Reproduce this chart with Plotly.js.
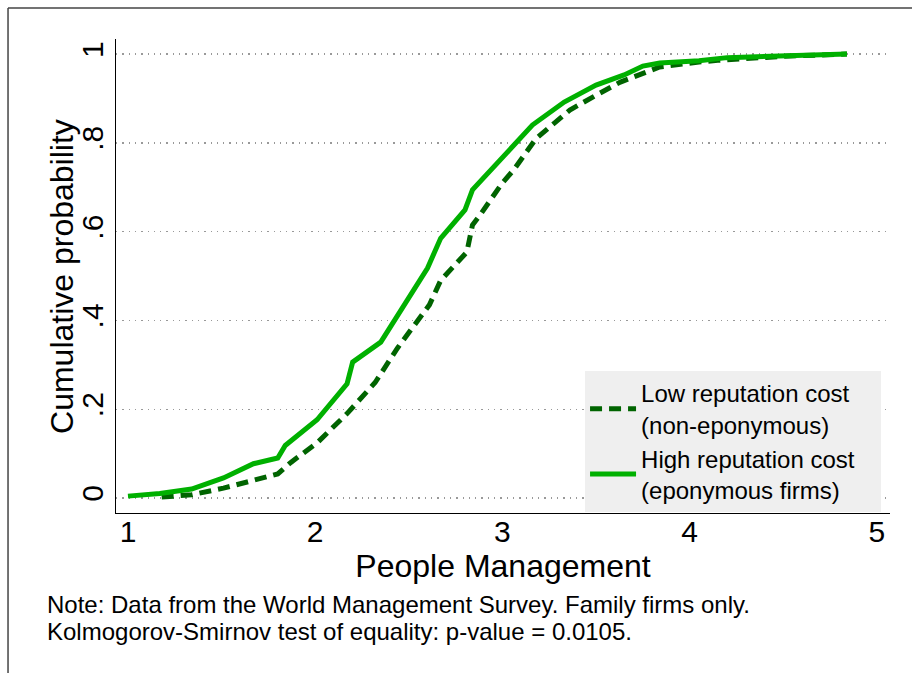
<!DOCTYPE html>
<html>
<head>
<meta charset="utf-8">
<script src="https://cdn.plot.ly/plotly-3.0.1.min.js"></script>
<style>html,body{margin:0;padding:0;background:#fff;}#chart{width:912px;height:673px;}</style>
</head>
<body>
<div id="chart"></div>
<script>
const lowX = [1.18, 1.34, 1.51, 1.67, 1.80, 1.87, 1.97, 2.01, 2.17, 2.32, 2.44, 2.61, 2.67, 2.81, 2.84, 2.88, 3.00, 3.06, 3.18, 3.36, 3.52, 3.63, 3.73, 3.84, 4.05, 4.15, 4.50, 4.84];
const lowY = [0.002, 0.007, 0.022, 0.040, 0.054, 0.080, 0.112, 0.124, 0.190, 0.260, 0.338, 0.435, 0.490, 0.554, 0.615, 0.637, 0.710, 0.739, 0.810, 0.874, 0.912, 0.937, 0.953, 0.971, 0.982, 0.986, 0.995, 1.000];
// High reputation cost (eponymous firms)
const highX = [1.00, 1.17, 1.34, 1.51, 1.67, 1.80, 1.84, 2.01, 2.17, 2.20, 2.35, 2.49, 2.60, 2.67, 2.80, 2.84, 2.99, 3.16, 3.33, 3.50, 3.65, 3.75, 3.84, 4.05, 4.20, 4.50, 4.84];
const highY = [0.004, 0.010, 0.020, 0.045, 0.077, 0.090, 0.118, 0.176, 0.257, 0.306, 0.351, 0.446, 0.518, 0.585, 0.649, 0.694, 0.763, 0.840, 0.892, 0.930, 0.953, 0.973, 0.980, 0.985, 0.992, 0.997, 1.000];

const xTicks = [1, 2, 3, 4, 5];
const xTickText = ["1", "2", "3", "4", "5"];
const yTicks = [0, 0.2, 0.4, 0.6, 0.8, 1];
const yTickText = ["0", ".2", ".4", ".6", ".8", "1"];

const seriesNames = ["Low reputation cost\u00a0\u00a0\u00a0\u00a0<br>(non-eponymous)", "High reputation cost\u00a0\u00a0\u00a0<br>(eponymous firms)"];
const xTitle = "People Management";
const yTitle = "Cumulative probability";
const noteLines = ["Note: Data from the World Management Survey. Family firms only.",
                   "Kolmogorov-Smirnov test of equality: p-value = 0.0105."];

const FONT = "Liberation Sans, Arial, Helvetica, sans-serif";

const traces = [
  {x: lowX, y: lowY, type: "scatter", mode: "lines", name: seriesNames[0],
   line: {color: "#006400", width: 5, dash: "12px,7px"}},
  {x: highX, y: highY, type: "scatter", mode: "lines", name: seriesNames[1],
   line: {color: "#00b000", width: 5}}
];

const layout = {
  width: 912, height: 673,
  margin: {l: 116, r: 22, t: 39, b: 160},
  paper_bgcolor: "#ffffff", plot_bgcolor: "#ffffff",
  font: {family: FONT, color: "#000"},
  showlegend: true,
  legend: {
    x: 0.606, y: 0.151, xanchor: "left", yanchor: "middle",
    bgcolor: "#efefef", borderwidth: 0,
    font: {family: FONT, size: 24, color: "#000"},
    tracegroupgap: 0, itemwidth: 46
  },
  xaxis: {
    range: [0.936, 5.07],
    tickvals: xTicks, ticktext: xTickText,
    tickfont: {family: FONT, size: 30},
    ticks: "", showgrid: false, zeroline: false, ticklabelstandoff: -8,
    showline: true, linecolor: "#000", linewidth: 1.2,
    title: {text: xTitle, font: {family: FONT, size: 32}, standoff: 6}
  },
  yaxis: {
    range: [-0.034, 1.034],
    tickvals: yTicks, ticktext: yTickText, tickangle: -90,
    tickfont: {family: FONT, size: 30},
    ticks: "", zeroline: false,
    showgrid: true, gridcolor: "#999999", gridwidth: 1.3, griddash: "1.3px,5px",
    showline: true, linecolor: "#000", linewidth: 1.2
  },
  annotations: [
    {xref: "paper", yref: "paper", x: -0.0698, y: 0.5, xanchor: "center", yanchor: "middle",
     text: yTitle, textangle: -90, showarrow: false, font: {family: FONT, size: 32, color: "#000"}},
    {xref: "paper", yref: "paper", x: -0.0917, y: -0.192, xanchor: "left", yanchor: "middle",
     text: noteLines[0], showarrow: false, font: {family: FONT, size: 24, color: "#000"}},
    {xref: "paper", yref: "paper", x: -0.0917, y: -0.25, xanchor: "left", yanchor: "middle",
     text: noteLines[1], showarrow: false, font: {family: FONT, size: 24, color: "#000"}}
  ],
  shapes: [
    {type: "line", xref: "paper", yref: "paper", x0: -0.1395, x1: -0.1395, y0: -0.34, y1: 1.0654,
     line: {color: "#444", width: 1.5}},
    {type: "line", xref: "paper", yref: "paper", x0: -0.1395, x1: 1.03, y0: 1.0654, y1: 1.0654,
     line: {color: "#444", width: 1.5}}
  ]
};

Plotly.newPlot("chart", traces, layout, {staticPlot: true, displayModeBar: false});
</script>
</body>
</html>
